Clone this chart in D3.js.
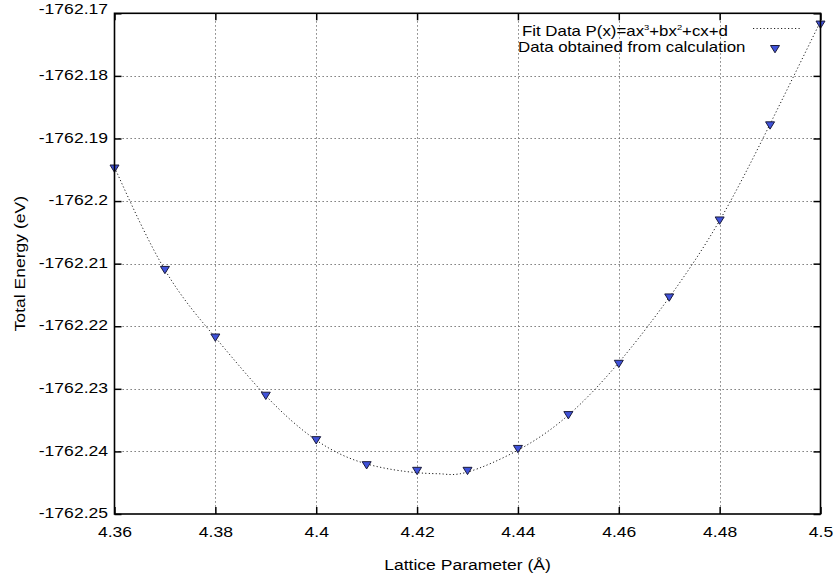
<!DOCTYPE html>
<html>
<head>
<meta charset="utf-8">
<script src="https://cdn.jsdelivr.net/npm/d3@7"></script>
<style>
  body { margin: 0; background: #fff; }
  svg { display: block; font-family: "Liberation Sans", Arial, sans-serif; }
</style>
</head>
<body>
<div id="chart"></div>
<script>
const width = 835;
const height = 580;

// data
const latticeParams = [4.36, 4.37, 4.38, 4.39, 4.40, 4.41, 4.42, 4.43, 4.44, 4.45, 4.46, 4.47, 4.48, 4.49, 4.50];
const totalEnergy = [-1762.1948, -1762.2110, -1762.2218, -1762.2311, -1762.2382, -1762.2422, -1762.2431,
  -1762.2431, -1762.2396, -1762.2342, -1762.2260, -1762.2154, -1762.2031, -1762.1879, -1762.1718];

// fitted curve
const fitX = [4.36, 4.37, 4.38, 4.39, 4.40, 4.41, 4.42, 4.425, 4.43, 4.44, 4.45, 4.46, 4.47, 4.48, 4.49, 4.50];
const fitY = [-1762.1946, -1762.2110, -1762.2218, -1762.2311, -1762.2382, -1762.2420, -1762.2434, -1762.2436,
  -1762.2433, -1762.2398, -1762.2342, -1762.2258, -1762.2154, -1762.2031, -1762.1877, -1762.1713];

const xTicks = [4.36, 4.38, 4.40, 4.42, 4.44, 4.46, 4.48, 4.50];
const xTickLabels = ["4.36", "4.38", "4.4", "4.42", "4.44", "4.46", "4.48", "4.5"];
const yTicks = [-1762.17, -1762.18, -1762.19, -1762.20, -1762.21, -1762.22, -1762.23, -1762.24, -1762.25];
const yTickLabels = ["-1762.17", "-1762.18", "-1762.19", "-1762.2", "-1762.21", "-1762.22", "-1762.23", "-1762.24", "-1762.25"];

const plot = { left: 114.5, right: 820.5, top: 13.3, bottom: 514 };
const stretch = 1.17; // text in the picture is drawn wider than Arial

const x = d3.scaleLinear().domain([4.36, 4.50]).range([plot.left, plot.right]);
const y = d3.scaleLinear().domain([-1762.25, -1762.17]).range([plot.bottom, plot.top]);

const svg = d3.select("#chart")
  .append("svg")
  .attr("width", width)
  .attr("height", height);

// grid (dotted)
const grid = svg.append("g")
  .attr("stroke", "#666")
  .attr("stroke-width", 1)
  .attr("stroke-dasharray", "1.3,2.7");

grid.selectAll("line.gx")
  .data(xTicks.slice(1, -1))
  .join("line")
  .attr("x1", d => Math.round(x(d)) + 0.5)
  .attr("x2", d => Math.round(x(d)) + 0.5)
  .attr("y1", plot.top)
  .attr("y2", plot.bottom);

grid.selectAll("line.gy")
  .data(yTicks.slice(1, -1))
  .join("line")
  .attr("x1", plot.left)
  .attr("x2", plot.right)
  .attr("y1", d => Math.round(y(d)) + 0.5)
  .attr("y2", d => Math.round(y(d)) + 0.5);

// fit curve
const fitPoints = fitX.map((v, i) => [v, fitY[i]]);
const line = d3.line()
  .x(d => x(d[0]))
  .y(d => y(d[1]))
  .curve(d3.curveNatural);

svg.append("path")
  .datum(fitPoints)
  .attr("fill", "none")
  .attr("stroke", "#222")
  .attr("stroke-width", 1)
  .attr("stroke-dasharray", "1.2,2.3")
  .attr("d", line);

// data markers (downward triangles)
const tri = "M-4.5,-3.5L4.5,-3.5L0,3.8Z";
svg.append("g")
  .selectAll("path")
  .data(latticeParams.map((v, i) => [v, totalEnergy[i]]))
  .join("path")
  .attr("transform", d => `translate(${x(d[0])},${y(d[1])})`)
  .attr("d", tri)
  .attr("fill", "#3f52da")
  .attr("stroke", "#1b1b3a")
  .attr("stroke-width", 1);

// axes, ticks pointing inward
const fontSize = 15;
const xAxis = d3.axisBottom(x)
  .tickValues(xTicks)
  .tickFormat((d, i) => xTickLabels[i])
  .tickSize(-7)
  .tickPadding(12);
const yAxis = d3.axisLeft(y)
  .tickValues(yTicks)
  .tickFormat((d, i) => yTickLabels[i])
  .tickSize(-7)
  .tickPadding(7);

const gx = svg.append("g")
  .attr("transform", `translate(0,${plot.bottom})`)
  .call(xAxis);
const gy = svg.append("g")
  .attr("transform", `translate(${plot.left},0)`)
  .call(yAxis);

// mirrored ticks on top and right
const gxTop = svg.append("g")
  .attr("transform", `translate(0,${plot.top})`)
  .call(d3.axisTop(x).tickValues(xTicks).tickSize(-7).tickFormat(""));
const gyRight = svg.append("g")
  .attr("transform", `translate(${plot.right},0)`)
  .call(d3.axisRight(y).tickValues(yTicks).tickSize(-7).tickFormat(""));

[gx, gy, gxTop, gyRight].forEach(g => {
  g.select(".domain").remove();
  g.selectAll(".tick line").attr("stroke", "#000").attr("stroke-width", 1.5);
  g.selectAll("text")
    .attr("font-family", "Liberation Sans, Arial, sans-serif")
    .attr("font-size", fontSize)
    .attr("fill", "#000");
});
gx.selectAll(".tick text").attr("transform", `scale(${stretch},1)`);
gy.selectAll(".tick text")
  .attr("dy", (d, i) => i === 0 ? "0.02em" : "0.24em") // top label sits a bit higher
  .attr("x", -6.5 / stretch)
  .attr("transform", `scale(${stretch},1)`);

// frame
svg.append("rect")
  .attr("x", plot.left)
  .attr("y", plot.top)
  .attr("width", plot.right - plot.left)
  .attr("height", plot.bottom - plot.top)
  .attr("fill", "none")
  .attr("stroke", "#000")
  .attr("stroke-width", 1.6);

// axis titles
svg.append("text")
  .attr("transform", `translate(${(plot.left + plot.right) / 2},570) scale(${stretch},1)`)
  .attr("text-anchor", "middle")
  .attr("font-size", 15)
  .text("Lattice Parameter (Å)");

svg.append("text")
  .attr("transform", `translate(25,${(plot.top + plot.bottom) / 2}) rotate(-90) scale(${stretch},1)`)
  .attr("text-anchor", "middle")
  .attr("font-size", 15)
  .text("Total Energy (eV)");

// legend
const legend = svg.append("g").attr("font-size", 14.4);
const l1 = legend.append("text").attr("transform", `translate(522,36) scale(${stretch},1)`);
l1.append("tspan").text("Fit Data P(x)=ax");
l1.append("tspan").attr("font-size", 8).attr("dy", -6).text("3");
l1.append("tspan").attr("dy", 6).text("+bx");
l1.append("tspan").attr("font-size", 8).attr("dy", -6).text("2");
l1.append("tspan").attr("dy", 6).text("+cx+d");

legend.append("text")
  .attr("transform", `translate(518,52) scale(${stretch},1)`)
  .text("Data obtained from calculation");

legend.append("line")
  .attr("x1", 753).attr("x2", 800)
  .attr("y1", 28.5).attr("y2", 28.5)
  .attr("stroke", "#222")
  .attr("stroke-dasharray", "1.2,2.3");

legend.append("path")
  .attr("transform", "translate(775,49)")
  .attr("d", tri)
  .attr("fill", "#3f52da")
  .attr("stroke", "#1b1b3a")
  .attr("stroke-width", 1);
</script>
</body>
</html>
